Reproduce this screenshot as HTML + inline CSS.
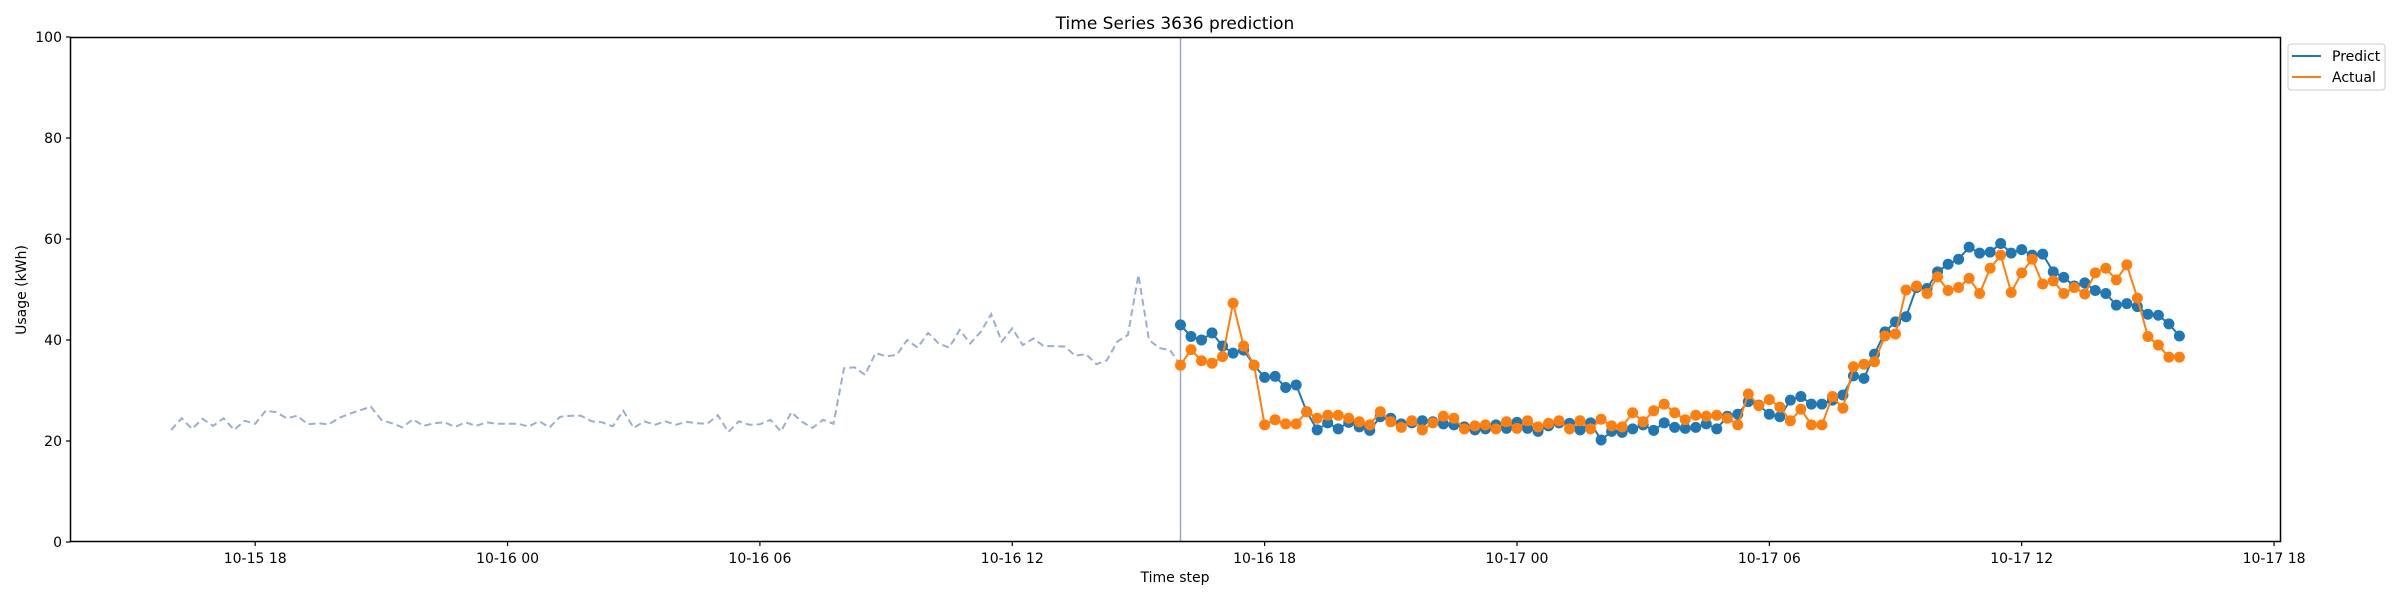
<!DOCTYPE html>
<html><head><meta charset="utf-8"><style>
html,body{margin:0;padding:0;background:#fff;}
svg{display:block;font-family:"DejaVu Sans","Liberation Sans",sans-serif;}
</style></head><body>
<svg id="chart" width="2400" height="600" viewBox="0 0 2400 600" xmlns="http://www.w3.org/2000/svg">
<rect x="0" y="0" width="2400" height="600" fill="#fff"/>
<text x="1175" y="29" font-size="17" text-anchor="middle" fill="#000">Time Series 3636 prediction</text>
<text x="1175" y="582" font-size="14" text-anchor="middle" fill="#000">Time step</text>
<text x="0" y="0" font-size="14" text-anchor="middle" fill="#000" transform="translate(26,290) rotate(-90)">Usage (kWh)</text>
<g id="grid"></g>
<g id="series"></g>
<rect x="70.5" y="37.5" width="2210" height="504" fill="none" stroke="#000" stroke-width="1.5"/>
<g>
<rect x="2288" y="44" width="97" height="46" rx="3" fill="#fff" stroke="#ccc" stroke-width="1"/>
<line x1="2292" y1="56" x2="2321" y2="56" stroke="#1f77b4" stroke-width="2"/>
<text x="2332" y="61" font-size="14" fill="#000">Predict</text>
<line x1="2292" y1="77" x2="2321" y2="77" stroke="#ff7f0e" stroke-width="2"/>
<text x="2332" y="82" font-size="14" fill="#000">Actual</text>
</g>
</svg>
<script>
const history = [22.2,24.5,22.4,24.4,23,24.5,22.2,24,23.4,26,25.7,24.5,25,23.3,23.5,23.3,24.6,25.4,26.1,26.8,24.2,23.5,22.7,24.3,23,23.5,23.7,22.8,23.7,23,23.7,23.4,23.4,23.4,22.9,23.9,22.7,24.8,25,25,23.9,23.7,22.9,26,22.6,23.9,23.2,23.9,23.2,23.8,23.5,23.4,25.1,21.8,23.9,23.2,23.3,24.2,21.9,25.7,23.8,22.6,24.2,23.4,34.4,34.6,33.1,37.4,36.8,37,40,38.5,41.4,39.3,38.5,42,39.3,41.6,45.1,39.7,42.3,39,40.3,38.8,38.8,38.7,36.9,37.2,35.2,36,39.7,41,52.9,40,38.4,38,35];
const predict = [43,40.7,40,41.4,38.8,37.4,38,35,32.6,32.8,30.6,31.1,25.8,22.2,23.6,22.4,23.7,22.8,22.1,24.8,24.5,23.4,23.6,24,23.8,23.4,23.2,22.8,22.2,22.4,23.2,22.5,23.7,22.5,21.9,23,23.6,23.5,22.2,23.6,20.2,21.9,21.7,22.4,23.2,22.1,23.6,22.7,22.5,22.7,23.4,22.4,24.9,25.3,27.8,27.1,25.3,24.8,28.1,28.8,27.3,27.3,28.1,29.1,32.9,32.4,37.2,41.6,43.6,44.6,50.4,50.2,53.5,55,56,58.4,57.2,57.4,59.1,57.2,57.9,56.8,57,53.5,52.4,50.7,51.3,49.8,49.2,46.9,47.2,46.6,45.1,44.9,43.2,40.8];
const actual = [35,38.1,35.9,35.4,36.7,47.3,38.8,35,23.2,24.2,23.4,23.4,25.8,24.5,25.1,25.1,24.5,23.8,23.2,25.8,23.8,22.7,24,22.2,23.6,24.9,24.5,22.4,23,23.2,22.4,23.8,22.5,24,22.8,23.5,24,22.4,24,22.4,24.3,23,22.8,25.6,23.8,26,27.3,25.6,24.2,25.1,24.9,25.1,24.5,23.2,29.3,27,28.2,26.7,24,26.3,23.2,23.2,28.8,26.5,34.7,35.2,35.7,40.8,41.2,49.9,50.7,49.2,52.5,49.8,50.4,52.2,49.2,54.2,56.8,49.4,53.3,56,51.1,51.7,49.2,50.4,49.1,53.3,54.2,51.9,54.9,48.3,40.7,39,36.6,36.6];
const xTickLabels = ["10-15 18","10-16 00","10-16 06","10-16 12","10-16 18","10-17 00","10-17 06","10-17 12","10-17 18"];
const xTickHours = [-22,-16,-10,-4,2,8,14,20,26];
const yTicks = [0,20,40,60,80,100];

const NS = "http://www.w3.org/2000/svg";
function xScale(h){ return 1180.5 + h*42.06; }
function yScale(v){ return 542 - v*5.05; }
const histStart = -24, step = 0.25;

function mk(tag, attrs, parent){
  const e = document.createElementNS(NS, tag);
  for (const k in attrs) e.setAttribute(k, attrs[k]);
  parent.appendChild(e);
  return e;
}
const grid = document.getElementById('grid');
const series = document.getElementById('series');

yTicks.forEach(v => {
  const y = yScale(v);
  const t = mk('line', {x1:66, x2:70.5, y1:y, y2:y, stroke:'#000', 'stroke-width':1.2}, grid);
  
  
  const l = mk('text', {x:62, y:y+5, 'font-size':14, 'text-anchor':'end', fill:'#000'}, grid);
  l.textContent = v;
  
  
});
xTickHours.forEach((h, i) => {
  const x = xScale(h);
  const t = mk('line', {x1:x, x2:x, y1:541.5, y2:546, stroke:'#000', 'stroke-width':1.2}, grid);
  
  
  const l = mk('text', {x:x, y:563, 'font-size':14, 'text-anchor':'middle', fill:'#000'}, grid);
  l.textContent = xTickLabels[i];
  
  
});

const hp = history.map((v,i) => xScale(histStart + i*step).toFixed(1) + ',' + yScale(v).toFixed(1)).join(' ');
const hl = mk('polyline', {points:hp, fill:'none', stroke:'#9aafcb', 'stroke-width':2, 'stroke-dasharray':'7,4'}, series);



const vl = mk('line', {x1:xScale(0), x2:xScale(0), y1:38, y2:542, stroke:'#9aa6c8', 'stroke-width':1.5}, series);



function drawSeries(data, color, name){
  const pts = data.map((v,i) => xScale(i*step).toFixed(1) + ',' + yScale(v).toFixed(1)).join(' ');
  const pl = mk('polyline', {points:pts, fill:'none', stroke:color, 'stroke-width':2}, series);
  
  
  data.forEach((v,i) => {
    const c = mk('circle', {cx:xScale(i*step), cy:yScale(v), r:5.5, fill:color}, series);
    
    
  });
}
drawSeries(predict, '#1f77b4', 'predict');
drawSeries(actual, '#ff7f0e', 'actual');
</script>
</body></html>
